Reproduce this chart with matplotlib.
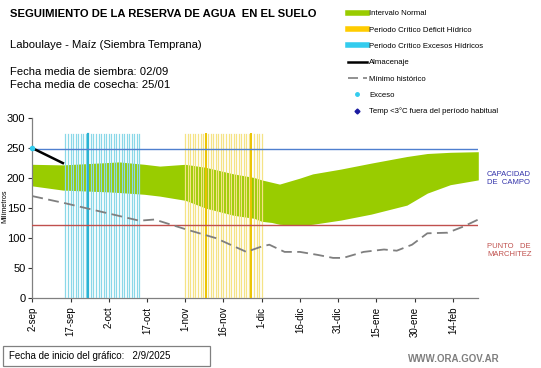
import numpy as np
import matplotlib.pyplot as plt
from matplotlib.lines import Line2D
from matplotlib.patches import Rectangle

plt.rcParams['font.family'] = ['Liberation Sans', 'DejaVu Sans']

# ==============================
# 数据 (días desde el 2-sep)
# ==============================
band_days = [0, 12, 30, 34, 44, 50, 60, 68, 79, 87, 90, 94, 97, 105, 110, 121, 133, 147, 155, 164, 175]
band_upper = [222, 221, 225, 226, 222, 219, 222, 217, 206, 200, 196, 192, 189, 199, 206, 214, 224, 235, 240, 242, 243]
band_lower = [186, 179, 176, 175, 172, 169, 162, 149, 137, 132, 127, 125, 122, 120, 122, 129, 139, 154, 174, 188, 196]

min_days = [0, 13, 30, 42, 48, 60, 72, 84, 90, 93, 99, 105, 112, 118, 122, 130, 138, 143, 149, 155, 163, 169, 175]
min_hist = [169, 157, 140, 128, 130, 114, 99, 76, 85, 88, 76, 76, 71, 66, 66, 76, 80, 78, 88, 107, 108, 118, 130]

alm_days = [0, 12]
almacenaje = [249, 224]
exceso_days = [0]
exceso_vals = [249]

cap_campo = 247
punto_marchitez = 121

excesos_days = list(range(13, 43))
excesos_fuertes = [22]
deficit_days = list(range(60, 91))
deficit_fuertes = [68, 86]

tick_days = list(range(0, 166, 15))
tick_labels = ['2-sep', '17-sep', '2-oct', '17-oct', '1-nov', '16-nov', '1-dic',
               '16-dic', '31-dic', '15-ene', '30-ene', '14-feb']

W, H = 541, 368
fig = plt.figure(figsize=(W / 100, H / 100), dpi=100)


def fx(px):
    return px / W


def fy(py):
    return 1 - py / H


ax = fig.add_axes([fx(32.3), fy(297.5), fx(478.3) - fx(32.3), fy(117.5) - fy(297.5)])

# 区间
ax.fill_between(band_days, band_lower, band_upper, color='#99CC00', linewidth=0, zorder=2)

# 关键期竖线
for d in excesos_days:
    c = '#2BB3D4' if d in excesos_fuertes else '#8AD8E8'
    ax.plot([d, d], [0, 272], color=c, linewidth=0.9 if d not in excesos_fuertes else 1.6, zorder=3)
for d in deficit_days:
    c = '#EBC400' if d in deficit_fuertes else '#F5E385'
    ax.plot([d, d], [0, 272], color=c, linewidth=0.9 if d not in deficit_fuertes else 1.4, zorder=3)

ax.axhline(cap_campo, color='#4F7FCF', linewidth=1.0, zorder=4)
ax.axhline(punto_marchitez, color='#C0504D', linewidth=1.0, zorder=4)

ax.plot(min_days, min_hist, color='#7F7F7F', linewidth=1.3, dashes=(6, 3), zorder=5)
ax.plot(alm_days, almacenaje, color='black', linewidth=1.8, zorder=6)
ax.plot(exceso_days, exceso_vals, 'o', color='#33CCEE', markersize=3, zorder=7, clip_on=False)

ax.set_xlim(0, 175)
ax.set_ylim(0, 300)
ax.set_yticks(range(0, 301, 50))
ax.set_xticks(tick_days)
ax.set_xticklabels(tick_labels, rotation=90, fontsize=7)
ax.tick_params(axis='y', labelsize=8, length=3, width=0.8, pad=2, colors='#333333')
ax.tick_params(axis='x', length=3, width=0.8, colors='#333333')
for lab in ax.get_xticklabels() + ax.get_yticklabels():
    lab.set_color('black')
ax.spines['top'].set_visible(False)
ax.spines['right'].set_visible(False)
for s in ['left', 'bottom']:
    ax.spines[s].set_color('#808080')
    ax.spines[s].set_linewidth(0.9)

# eje Y
fig.text(fx(5), fy(206), 'Milímetros', fontsize=5.2, rotation=90, va='center', ha='center')

# 文字
fig.text(fx(10), fy(14), 'SEGUIMIENTO DE LA RESERVA DE AGUA  EN EL SUELO', fontsize=8.1,
         fontweight='bold', va='center', ha='left')
fig.text(fx(10), fy(45), 'Laboulaye - Maíz (Siembra Temprana)', fontsize=8.1, va='center', ha='left')
fig.text(fx(10), fy(72), 'Fecha media de siembra: 02/09', fontsize=8.1, va='center', ha='left')
fig.text(fx(10), fy(85), 'Fecha media de cosecha: 25/01', fontsize=8.1, va='center', ha='left')

fig.text(fx(487), fy(179), 'CAPACIDAD\nDE  CAMPO', fontsize=5.5, color='#3333AA',
         va='center', ha='left', linespacing=1.2)
fig.text(fx(487), fy(251), 'PUNTO   DE\nMARCHITEZ', fontsize=5.5, color='#C0504D',
         va='center', ha='left', linespacing=1.2)

# 图例
handles = [
    Line2D([], [], color='#99CC00', linewidth=4),
    Line2D([], [], color='#FFCC00', linewidth=4),
    Line2D([], [], color='#33CCEE', linewidth=4),
    Line2D([], [], color='black', linewidth=1.8),
    Line2D([], [], color='#7F7F7F', linewidth=1.2, dashes=(6, 3)),
    Line2D([], [], color='#33CCEE', marker='o', markersize=2.5, linestyle='None'),
    Line2D([], [], color='#1A1AA0', marker='D', markersize=2.5, linestyle='None'),
]
labels = ['Intervalo Normal', 'Periodo Crítico Déficit Hídrico', 'Periodo Crítico Excesos Hídricos',
          'Almacenaje', 'Mínimo histórico', 'Exceso', 'Temp <3°C fuera del período habitual']
fig.legend(handles, labels, loc='upper left', bbox_to_anchor=(fx(344), fy(6)), frameon=False,
           fontsize=5.6, handlelength=2.4, handletextpad=0.3, labelspacing=1.14, borderpad=0)

# 底部
fig.patches.append(Rectangle((fx(3), fy(366)), fx(207), fy(346) - fy(366), transform=fig.transFigure,
                             fill=False, edgecolor='#808080', linewidth=0.9))
fig.text(fx(9), fy(356), 'Fecha de inicio del gráfico:   2/9/2025', fontsize=7, va='center', ha='left')
fig.text(fx(500), fy(359), 'WWW.ORA.GOV.AR', fontsize=7, color='#7F7F7F', fontweight='bold',
         va='center', ha='right')

fig.savefig('out.png', dpi=100)
